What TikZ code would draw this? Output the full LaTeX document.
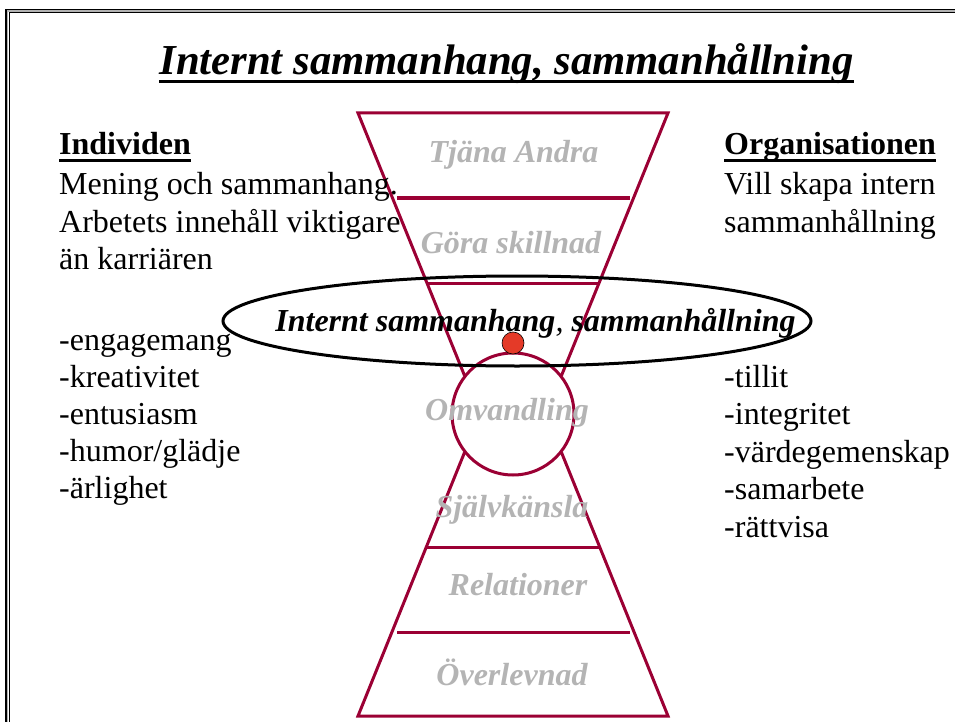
\documentclass[tikz,border=0pt]{standalone}
\usepackage{fontspec}
\IfFontExistsTF{LiberationSerif-Regular.ttf}
  {\setmainfont{LiberationSerif}[Extension=.ttf,UprightFont=*-Regular,BoldFont=*-Bold,
     ItalicFont=*-Italic,BoldItalicFont=*-BoldItalic]}
  {\IfFontExistsTF{texgyretermes-regular.otf}
     {\setmainfont{texgyretermes}[Extension=.otf,UprightFont=*-regular,BoldFont=*-bold,
        ItalicFont=*-italic,BoldItalicFont=*-bolditalic]}
     {\setmainfont{Liberation Serif}}}
\usetikzlibrary{shapes.geometric}
\definecolor{pyrred}{RGB}{155,0,52}
\definecolor{lblgrey}{RGB}{180,180,180}
\definecolor{dotred}{RGB}{228,58,40}
\newcommand{\bodyfont}{\fontsize{32}{37.3}\selectfont}
\newcommand{\lvlfont}{\fontsize{32}{37.3}\selectfont\bfseries\itshape}

\begin{document}
\begin{tikzpicture}[x=1pt,y=-1pt,
  pyr/.style={draw=pyrred,line width=3pt},
  lvl/.style={font=\lvlfont,text=lblgrey,anchor=base,inner sep=0pt},
  txt/.style={font=\bodyfont,anchor=base west,inner sep=0pt},
  head/.style={txt,font=\bodyfont\bfseries},
  uline/.style={line width=2.5pt}]
\useasboundingbox (0,0) rectangle (955,722);
% frame
\draw[line width=1.3pt] (6,722) -- (6,9.5) -- (955,9.5);
\draw[gray!60,line width=1.5pt] (7.6,722) -- (7.6,11) -- (955,11);
\draw[line width=0.8pt] (9.1,722) -- (9.1,12.5) -- (955,12.5);

% title
\node[font=\fontsize{42.7}{50}\selectfont\bfseries\itshape,anchor=base,inner sep=0pt]
  (title) at (506.5,75) {Internt sammanhang, sammanhållning};
\draw[line width=3pt] ([yshift=-6.5pt]title.base west) -- ([yshift=-6.5pt]title.base east);

% upper and lower pyramid
\node[circle,draw=pyrred,line width=3pt,minimum size=122pt,inner sep=0pt] (omv) at (513,414) {};
\coordinate (ul) at (464.7,376);
\coordinate (ur) at (561.3,376);
\coordinate (ll) at (464.7,452);
\coordinate (lr) at (561.3,452);
\draw[pyr] (ul) -- (358,113) -- (668,113) -- (ur);
\draw[pyr] (397,198) -- (630,198);
\draw[pyr] (427,283) -- (599,283);
\draw[pyr] (ll) -- (358,716) -- (668,716) -- (lr);
\draw[pyr] (427,547) -- (599,547);
\draw[pyr] (397,632) -- (630,632);

\node[lvl] (tjana) at (513.5,163) {Tjäna Andra};
\node[lvl] (gora) at (511,253) {Göra skillnad};
\node[lvl] (omvl) at (507,420) {Omvandling};
\node[lvl] (sjalv) at (512,517) {Självkänsla};
\node[lvl] (rel) at (518,595) {Relationer};
\node[lvl] (over) at (512,685) {Överlevnad};

% ellipse
\node[ellipse,draw,line width=3pt,minimum width=588pt,minimum height=90pt,inner sep=0pt]
  (ell) at (517,321) {};
\node[lvl,text=black] (ellt) at (535.5,331) {Internt sammanhang{\mdseries,} sammanhållning};
\node[circle,fill=dotred,draw=black,line width=0.6pt,minimum size=22pt,inner sep=0pt]
  (dot) at (513,343) {};

% individen
\node[head] (indiv) at (59,155) {Individen};
\draw[uline] ([yshift=-5.5pt]indiv.base west) -- ([yshift=-5.5pt]indiv.base east);
\foreach \t [count=\i from 0] in {Mening och sammanhang.,Arbetets innehåll viktigare,än karriären}
  \node[txt] (ind-\i) at (59,195+37.2*\i) {\t};
\foreach \t [count=\i from 0] in {-engagemang,-kreativitet,-entusiasm,-humor/glädje,-ärlighet}
  \node[txt] (indq-\i) at (59,350+37.2*\i) {\t};

% organisationen
\node[head] (org) at (724,155) {Organisationen};
\draw[uline] ([yshift=-5.5pt]org.base west) -- ([yshift=-5.5pt]org.base east);
\foreach \t [count=\i from 0] in {Vill skapa intern,sammanhållning}
  \node[txt] (org-\i) at (724,195+37.2*\i) {\t};
\foreach \t [count=\i from 0] in {-tillit,-integritet,-värdegemenskap,-samarbete,-rättvisa}
  \node[txt] (orgq-\i) at (724,387+37.5*\i) {\t};
\end{tikzpicture}
\end{document}
